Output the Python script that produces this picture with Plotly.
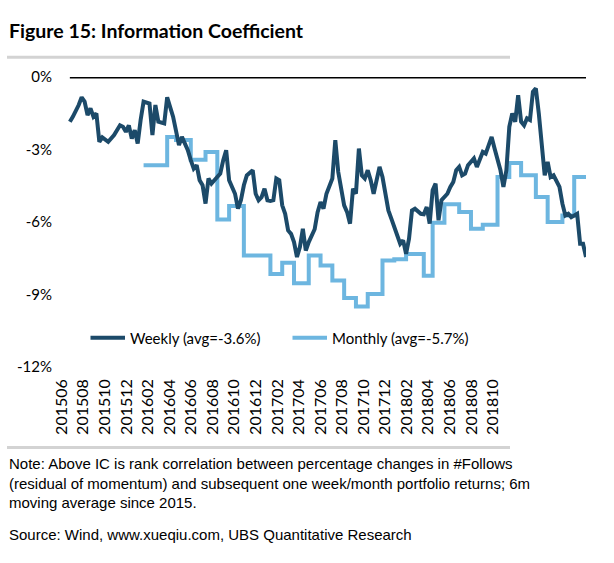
import plotly.graph_objects as go

# ---------------- data ----------------
weekly_week = [0, 1, 3, 4, 5, 6, 7, 8, 9, 10, 11, 13, 15, 17, 18, 19, 20, 21, 22, 23,
               24, 25, 27, 28, 29, 30, 32, 33, 35, 36, 37, 38, 39, 40, 41, 42, 43, 44,
               45, 46, 47, 48, 49, 51, 52, 53, 54, 55, 56, 57, 58, 59, 60, 62, 63, 64,
               65, 66, 67, 68, 69, 70, 71, 72, 73, 74, 75, 76, 77, 78, 79, 80, 81, 83,
               84, 85, 86, 87, 89, 90, 91, 93, 94, 95, 96, 97, 98, 99, 100, 101, 102,
               103, 105, 106, 108, 109, 111, 112, 113, 114, 115, 116, 117, 119, 120,
               121, 122, 123, 124, 125, 126, 128, 129, 130, 131, 132, 133, 134, 135,
               136, 137, 138, 139, 140, 141, 143, 144, 145, 146, 147, 148, 149, 150,
               151, 152, 153, 154, 155, 156, 157, 158, 159, 160, 161, 162, 163, 164,
               166, 167, 168, 169, 170, 172, 173, 174, 175]
weekly_ic = [-1.85, -1.65, -1.16, -0.84, -1.02, -1.58, -1.30, -1.64, -1.51, -2.68, -2.50,
             -2.68, -2.40, -2.00, -2.06, -2.27, -2.00, -2.55, -2.20, -2.75, -1.78, -1.02,
             -1.10, -2.40, -1.16, -1.85, -1.92, -0.84, -1.64, -2.27, -2.82, -2.48, -2.75,
             -3.03, -3.44, -3.79, -3.65, -4.27, -4.48, -5.24, -4.20, -4.41, -4.27, -4.00,
             -3.44, -3.03, -4.27, -4.55, -4.83, -5.45, -5.10, -4.48, -4.07, -3.86, -4.83,
             -5.10, -4.97, -4.62, -5.10, -5.13, -5.10, -4.20, -4.27, -5.31, -5.66, -6.35,
             -6.49, -6.83, -7.45, -7.04, -6.28, -7.18, -6.83, -6.30, -5.59, -5.17, -5.45,
             -4.83, -4.20, -2.61, -3.93, -5.31, -5.59, -6.07, -4.62, -4.83, -2.96, -4.07,
             -4.20, -3.86, -4.27, -4.83, -3.72, -4.14, -5.52, -5.86, -6.63, -6.90, -6.76,
             -7.32, -6.69, -5.52, -5.45, -5.66, -5.68, -5.38, -6.07, -4.69, -4.41, -5.93,
             -5.10, -4.83, -4.55, -4.34, -3.86, -3.72, -4.07, -4.00, -3.65, -3.51, -3.37,
             -3.72, -3.44, -3.10, -3.17, -2.48, -2.96, -3.44, -3.86, -4.55, -3.86, -2.06,
             -1.51, -1.85, -0.75, -1.85, -2.00, -1.71, -1.78, -0.61, -0.47, -1.51, -2.61,
             -4.07, -3.51, -4.14, -4.07, -4.55, -5.24, -5.73, -5.66, -5.80, -5.66, -6.90,
             -6.90, -7.45]

monthly_week = [25, 33, 36, 41, 46, 50, 54, 59, 68, 72, 76, 81, 85, 89, 93, 97, 101,
                106, 110, 114, 120, 123, 127, 132, 136, 140, 145, 149, 153, 158, 162,
                167, 171, 175]
monthly_ic = [-3.65, -2.48, -2.61, -3.42, -3.10, -5.90, -5.34, -7.39, -8.15, -7.69,
              -8.53, -7.39, -7.80, -8.42, -9.14, -9.50, -8.98, -7.59, -7.54, -7.32,
              -8.22, -6.03, -5.27, -5.59, -6.28, -6.11, -4.14, -3.56, -4.07, -4.97,
              -6.00, -5.73, -4.14, -4.14]

x_tick_labels = ["201506", "201508", "201510", "201512", "201602", "201604", "201606",
                 "201608", "201610", "201612", "201702", "201704", "201706", "201708",
                 "201710", "201712", "201802", "201804", "201806", "201808", "201810"]
y_ticks = [0, -3, -6, -9, -12]
y_tick_labels = ["0%", "-3%", "-6%", "-9%", "-12%"]

weekly_name = "Weekly (avg=-3.6%)"
monthly_name = "Monthly (avg=-5.7%)"
title_text = "Figure 15: Information Coefficient"
note_text = ("Note: Above IC is rank correlation between percentage changes in #Follows<br>"
             "(residual of momentum) and subsequent one week/month portfolio returns; 6m<br>"
             "moving average since 2015.")
source_text = "Source: Wind, www.xueqiu.com, UBS Quantitative Research"

# ---------------- layout geometry ----------------
W, H = 614, 563
ML, MR, MT, MB = 61, 28, 77, 196
PW, PH = W - ML - MR, H - MT - MB
X0, X1 = -3, 175
TICK_START, TICK_STEP = -2.75, 7.31
tick_vals = [TICK_START + i * TICK_STEP for i in range(len(x_tick_labels))]


def px_x(px):
    return (px - ML) / PW


def px_y(py):
    return (H - MB - py) / PH


DARK = "#1c4a69"
LIGHT = "#6db6e0"

fig = go.Figure()
fig.add_trace(go.Scatter(x=monthly_week, y=monthly_ic, mode="lines", name=monthly_name,
                         line=dict(color=LIGHT, width=4, shape="hv"), legendrank=2))
fig.add_trace(go.Scatter(x=weekly_week, y=weekly_ic, mode="lines", name=weekly_name,
                         line=dict(color=DARK, width=4), legendrank=1))

fig.add_shape(type="line", xref="x", yref="y", x0=weekly_week[0], x1=weekly_week[-1],
              y0=0, y1=0, line=dict(color="black", width=3), layer="below")

gray = "#d3d3d3"
for py in (57.3, 447.5):
    fig.add_shape(type="line", xref="paper", yref="paper", x0=px_x(7), x1=px_x(510),
                  y0=px_y(py), y1=px_y(py), line=dict(color=gray, width=3))

fig.add_annotation(text="<b>" + title_text + "</b>", xref="paper", yref="paper",
                   x=px_x(7), y=px_y(30), xanchor="left", yanchor="middle",
                   showarrow=False, font=dict(family="Lato", size=19.5, color="black"))
fig.add_annotation(text=note_text, xref="paper", yref="paper", x=px_x(7), y=px_y(453),
                   xanchor="left", yanchor="top", align="left", showarrow=False,
                   font=dict(family="Liberation Sans", size=15, color="black"))
fig.add_annotation(text=source_text, xref="paper", yref="paper", x=px_x(7), y=px_y(534),
                   xanchor="left", yanchor="middle", align="left", showarrow=False,
                   font=dict(family="Liberation Sans", size=15, color="black"))

fig.update_layout(
    width=W, height=H,
    margin=dict(l=ML, r=MR, t=MT, b=MB, autoexpand=False),
    plot_bgcolor="white", paper_bgcolor="white",
    font=dict(family="Lato", size=15, color="black"),
    showlegend=True,
    legend=dict(orientation="h", x=px_x(85.5), y=px_y(338), xanchor="left",
                yanchor="middle", bgcolor="rgba(0,0,0,0)", font=dict(size=15),
                itemwidth=34.5, entrywidthmode="pixels", entrywidth=152.5,
                traceorder="normal"),
    xaxis=dict(range=[X0, X1], showgrid=False, zeroline=False, showline=False,
               tickmode="array", tickvals=tick_vals, ticktext=x_tick_labels,
               tickangle=-90, tickfont=dict(size=16), ticks="",
               ticklabelstandoff=8, fixedrange=True),
    yaxis=dict(range=[-12, 0], showgrid=False, zeroline=False, showline=False,
               tickmode="array", tickvals=y_ticks, ticktext=y_tick_labels, ticks="",
               tickfont=dict(size=15), ticklabelstandoff=8, fixedrange=True),
)

fig.write_html("out.html")
